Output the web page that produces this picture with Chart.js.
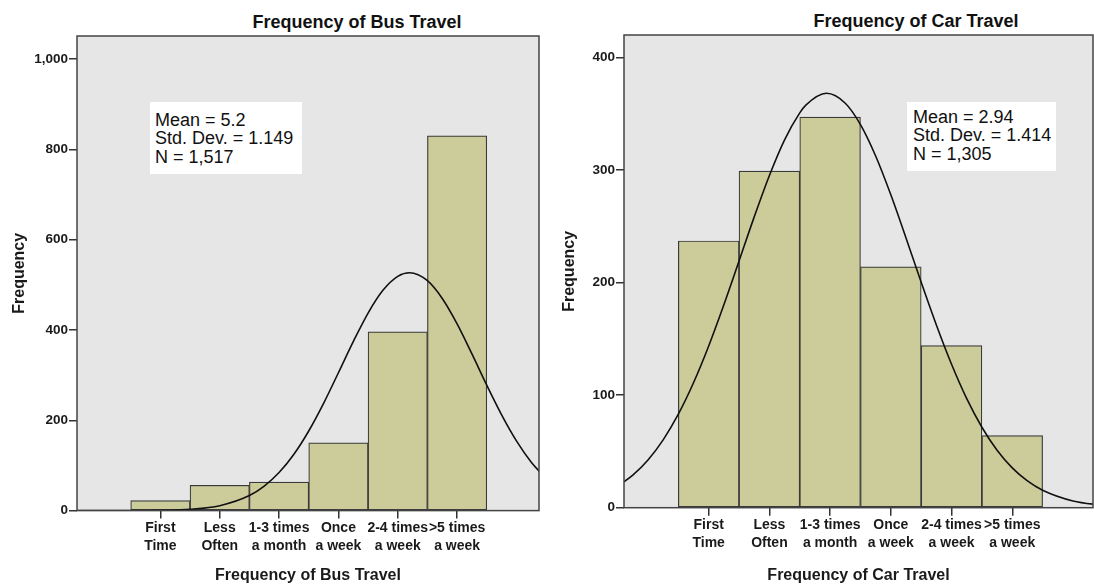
<!DOCTYPE html>
<html><head><meta charset="utf-8">
<script src="https://cdn.jsdelivr.net/npm/chart.js@4"></script>
<style>
html,body{margin:0;padding:0;background:#fff;}
body{width:1094px;height:586px;overflow:hidden;position:relative;font-family:"Liberation Sans",Arial,sans-serif;}
.wrap{position:absolute;top:0;height:586px;}
.title{position:absolute;font-weight:bold;font-size:18px;line-height:18px;color:#111;white-space:nowrap;transform:translateX(-50%);}
.stats{position:absolute;background:#fff;font-size:18px;line-height:18.5px;color:#111;box-sizing:border-box;white-space:nowrap;}
</style></head>
<body>
<div class="title" style="left:357px;top:13px;">Frequency of Bus Travel</div>
<div class="title" style="left:916px;top:12px;">Frequency of Car Travel</div>
<div class="wrap" style="left:0;width:550px;"><canvas id="bus" width="550" height="586"></canvas></div>
<div class="wrap" style="left:550px;width:544px;"><canvas id="car" width="544" height="586"></canvas></div>
<div class="stats" id="busStats" style="left:150px;top:102px;width:152px;height:72px;padding:8.5px 0 0 5px;"></div>
<div class="stats" id="carStats" style="left:907px;top:102px;width:149px;height:69px;padding:5.5px 0 0 6px;"></div>
<script>
// ---- data ----
const categories = [['First','Time'],['Less','Often'],['1-3 times','a month'],['Once','a week'],['2-4 times','a week'],['>5 times','a week']];
const codes = [1,2,3,4,5,6];

const busCounts = [22,56,63,150,396,830];
const busStatsText = ['Mean = 5.2','Std. Dev. = 1.149','N = 1,517'];
const busYTicks = [0,200,400,600,800,1000];
const busYLabels = ['0','200','400','600','800','1,000'];
// normal curve
const busCurveX = [-0.5,0,0.5,1,1.5,2,2.5,2.75,3,3.25,3.5,3.75,4,4.25,4.5,4.75,5,5.2,5.5,5.75,6,6.25,6.5,6.75,7,7.25,7.5];
const busCurveY = [0,0.02,0.12,0.66,2.95,10.9,33.3,54.3,84.2,124.8,176.3,237.5,305.3,374.2,437.5,487.8,518.8,526.7,509.1,469.7,413.4,346.9,277.7,212.1,154.4,107.2,71.0];

const carCounts = [237,299,347,214,144,64];
const carStatsText = ['Mean = 2.94','Std. Dev. = 1.414','N = 1,305'];
const carYTicks = [0,100,200,300,400];
const carYLabels = ['0','100','200','300','400'];
const carCurveX = [-0.5,-0.25,0,0.25,0.5,0.75,1,1.25,1.5,1.75,2,2.25,2.5,2.6,2.94,3.25,3.5,3.75,4,4.25,4.5,4.75,5,5.25,5.5,5.75,6,6.25,6.5,7,7.5];
const carCurveY = [19.1,28.9,42.4,60.3,83.1,111.0,143.7,180.3,219.2,258.4,295.2,326.9,350.8,357.7,368.2,359.4,340.4,312.5,278.0,239.7,200.3,162.3,127.4,96.9,71.5,51.1,35.4,23.8,15.5,5.97,2.03];

// ---- rendering ----
const FONT = '"Liberation Sans", Arial, sans-serif';
Chart.defaults.font.family = FONT;
Chart.defaults.color = '#1a1a1a';

const plotFrame = {
  id:'plotFrame',
  beforeDatasetsDraw(chart){
    const {ctx, chartArea:a} = chart;
    ctx.save(); ctx.fillStyle = '#e6e6e6';
    ctx.fillRect(a.left, a.top, a.right-a.left, a.bottom-a.top);
    ctx.restore();
  },
  afterDraw(chart){
    const {ctx, chartArea:a} = chart;
    ctx.save(); ctx.strokeStyle = '#444'; ctx.lineWidth = 1.5;
    ctx.strokeRect(a.left, a.top, a.right-a.left, a.bottom-a.top);
    ctx.restore();
  }
};

function makeChart(id, cfg){
  const bars = codes.map((c,i)=>({x:c, y:cfg.counts[i]}));
  const curve = cfg.curveX.map((x,i)=>({x:x, y:cfg.curveY[i]}));
  return new Chart(document.getElementById(id), {
    type:'bar',
    data:{datasets:[
      {type:'line', data:curve, borderColor:'#111', borderWidth:1.6, pointRadius:0, cubicInterpolationMode:'monotone', fill:false, order:0},
      {type:'bar', data:bars, backgroundColor:'#cccc9a', borderColor:'#3a3a3a', borderWidth:1.2, borderSkipped:false, barPercentage:1, categoryPercentage:1, order:1}
    ]},
    options:{
      responsive:false, animation:false, devicePixelRatio:1,
      layout:{padding:{left:0, right:cfg.padRight, top:cfg.padTop, bottom:0}},
      plugins:{legend:{display:false}, tooltip:{enabled:false}, title:{display:false}},
      scales:{
        x:{type:'linear', min:cfg.xMin, max:cfg.xMax, offset:false,
          afterBuildTicks:s=>{ s.ticks = codes.map(v=>({value:v})); },
          afterFit:s=>{ s.height = cfg.xHeight; },
          ticks:{callback:(v,i)=>categories[i], autoSkip:false, maxRotation:0, padding:0,
                 font:{size:14, weight:'bold', lineHeight:1.3}, color:'#1a1a1a'},
          grid:{offset:false, drawOnChartArea:false, drawTicks:true, tickLength:8, color:'#333', lineWidth:1.5},
          border:{display:false},
          title:{display:true, text:cfg.xTitle, font:{size:16, weight:'bold'}, color:'#1a1a1a', padding:{top:0,bottom:1}}
        },
        y:{min:0, max:cfg.yMax,
          afterBuildTicks:s=>{ s.ticks = cfg.yTicks.map(v=>({value:v})); },
          afterFit:s=>{ s.width = cfg.yWidth; },
          ticks:{callback:(v,i)=>cfg.yLabels[i], padding:1, font:{size:13.5, weight:'bold'}, color:'#1a1a1a'},
          grid:{drawOnChartArea:false, drawTicks:true, tickLength:8, color:'#333', lineWidth:1.5},
          border:{display:false},
          title:{display:true, text:'Frequency', font:{size:16, weight:'bold'}, color:'#1a1a1a', padding:{top:10,bottom:0}}
        }
      }
    },
    plugins:[plotFrame]
  });
}

makeChart('bus', {counts:busCounts, curveX:busCurveX, curveY:busCurveY, xMin:-0.405, xMax:7.38, yMax:1051,
  yTicks:busYTicks, yLabels:busYLabels, xTitle:'Frequency of Bus Travel', padRight:11, padTop:36, xHeight:75.4, yWidth:77});
makeChart('car', {counts:carCounts, curveX:carCurveX, curveY:carCurveY, xMin:-0.395, xMax:7.33, yMax:420,
  yTicks:carYTicks, yLabels:carYLabels, xTitle:'Frequency of Car Travel', padRight:1, padTop:35, xHeight:78.3, yWidth:74});

document.getElementById('busStats').innerHTML = busStatsText.join('<br>');
document.getElementById('carStats').innerHTML = carStatsText.join('<br>');
</script>
</body></html>
